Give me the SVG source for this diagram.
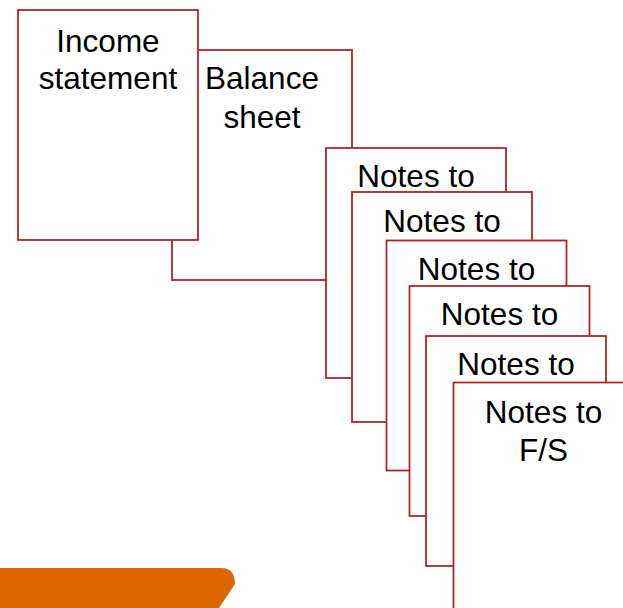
<svg xmlns="http://www.w3.org/2000/svg" width="623" height="608" viewBox="0 0 623 608">
<style>
.page{fill:#ffffff;stroke:#b02528;stroke-width:1.8}
.t{font-family:"Liberation Sans",Arial,sans-serif;font-size:31.5px;fill:#000000;text-anchor:middle}
</style>
<rect width="623" height="608" fill="#ffffff"/>
<g id="balance-sheet">
<rect class="page" x="172" y="50" width="180" height="230"/>
<text class="t" x="262" y="89">Balance</text>
<text class="t" x="262" y="128">sheet</text>
</g>
<g id="income-statement">
<rect class="page" x="18" y="10" width="180" height="230"/>
<text class="t" x="108" y="52">Income</text>
<text class="t" x="108" y="89">statement</text>
</g>
<g id="notes-1">
<rect class="page" x="326" y="148" width="180" height="230"/>
<text class="t" x="416" y="187">Notes to</text>
</g>
<g id="notes-2">
<rect class="page" x="352" y="192" width="180" height="230"/>
<text class="t" x="442" y="231.5">Notes to</text>
</g>
<g id="notes-3">
<rect class="page" x="386.5" y="240.5" width="180" height="230"/>
<text class="t" x="476.5" y="280">Notes to</text>
</g>
<g id="notes-4">
<rect class="page" x="409.5" y="286" width="180" height="230"/>
<text class="t" x="499.5" y="325">Notes to</text>
</g>
<g id="notes-5">
<rect class="page" x="426" y="336" width="180" height="230"/>
<text class="t" x="516" y="375">Notes to</text>
</g>
<g id="notes-6">
<rect class="page" x="453.5" y="382.5" width="180" height="230"/>
<text class="t" x="543.5" y="422.5">Notes to</text>
<text class="t" x="543.5" y="461">F/S</text>
</g>
<g id="orange-bar">
<path d="M0,568 L221,568 Q235,568 235,584 L219,608 L0,608 Z" fill="#dd6700"/>
</g>
</svg>
